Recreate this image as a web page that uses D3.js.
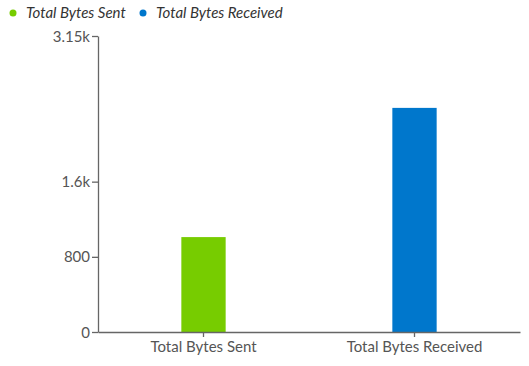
<!DOCTYPE html>
<html><head><meta charset="utf-8">
<script src="https://cdn.jsdelivr.net/npm/d3@7"></script>
<style>
body{margin:0;background:#fff;}
svg{display:block;font-family:Lato,sans-serif;}
</style></head>
<body><svg id="c" width="529" height="366"></svg>
<script>
const categories = ["Total Bytes Sent", "Total Bytes Received"];
const values = [1010, 2385];
const colors = ["#77cc00", "#0077cc"];
const yTicks = [0, 800, 1600, 3150];
const yTickLabels = ["0", "800", "1.6k", "3.15k"];

const svg = d3.select("#c");
const m = {left: 98, right: 9, top: 36, bottom: 34};
const W = 529, H = 366;

const x = d3.scaleBand().domain(categories).range([m.left, W - m.right]).padding(0);
const y = d3.scaleLinear().domain([0, 3150]).range([H - m.bottom, m.top]);
const barW = x.bandwidth() * 0.21;

svg.selectAll("rect.bar").data(categories).join("rect")
  .attr("class", "bar")
  .attr("x", d => x(d) + x.bandwidth() / 2 - barW / 2)
  .attr("width", barW)
  .attr("y", (d, i) => y(values[i]))
  .attr("height", (d, i) => y(0) - y(values[i]))
  .attr("fill", (d, i) => colors[i]);

const yAxis = svg.append("g").attr("transform", `translate(${m.left},0)`)
  .call(d3.axisLeft(y).tickValues(yTicks).tickFormat((d, i) => yTickLabels[i]).tickSize(6).tickSizeOuter(0));
const xAxis = svg.append("g").attr("transform", `translate(0,${y(0)})`)
  .call(d3.axisBottom(x).tickSize(5).tickSizeOuter(0));

[yAxis, xAxis].forEach(g => {
  g.select(".domain").attr("stroke", "#666").attr("stroke-width", 1.3);
  g.selectAll(".tick line").attr("stroke", "#666").attr("stroke-width", 1.3);
  g.selectAll(".tick text").attr("fill", "#555").style("font-size", "15px").style("font-family", "Lato, sans-serif");
});
yAxis.selectAll(".tick text").attr("x", -8).attr("dy", "0.34em");
xAxis.selectAll(".tick text").attr("y", 9);

// legend
const legend = svg.append("g");
const legX = [13, 143];
categories.forEach((c, i) => {
  legend.append("circle").attr("cx", legX[i]).attr("cy", 13).attr("r", 3.5).attr("fill", colors[i]);
  legend.append("text").attr("x", legX[i] + 13).attr("y", 13).attr("dy", "0.35em")
    .attr("fill", "#333").style("font-size", "15px").style("font-style", "italic").text(c);
});
</script></body></html>
